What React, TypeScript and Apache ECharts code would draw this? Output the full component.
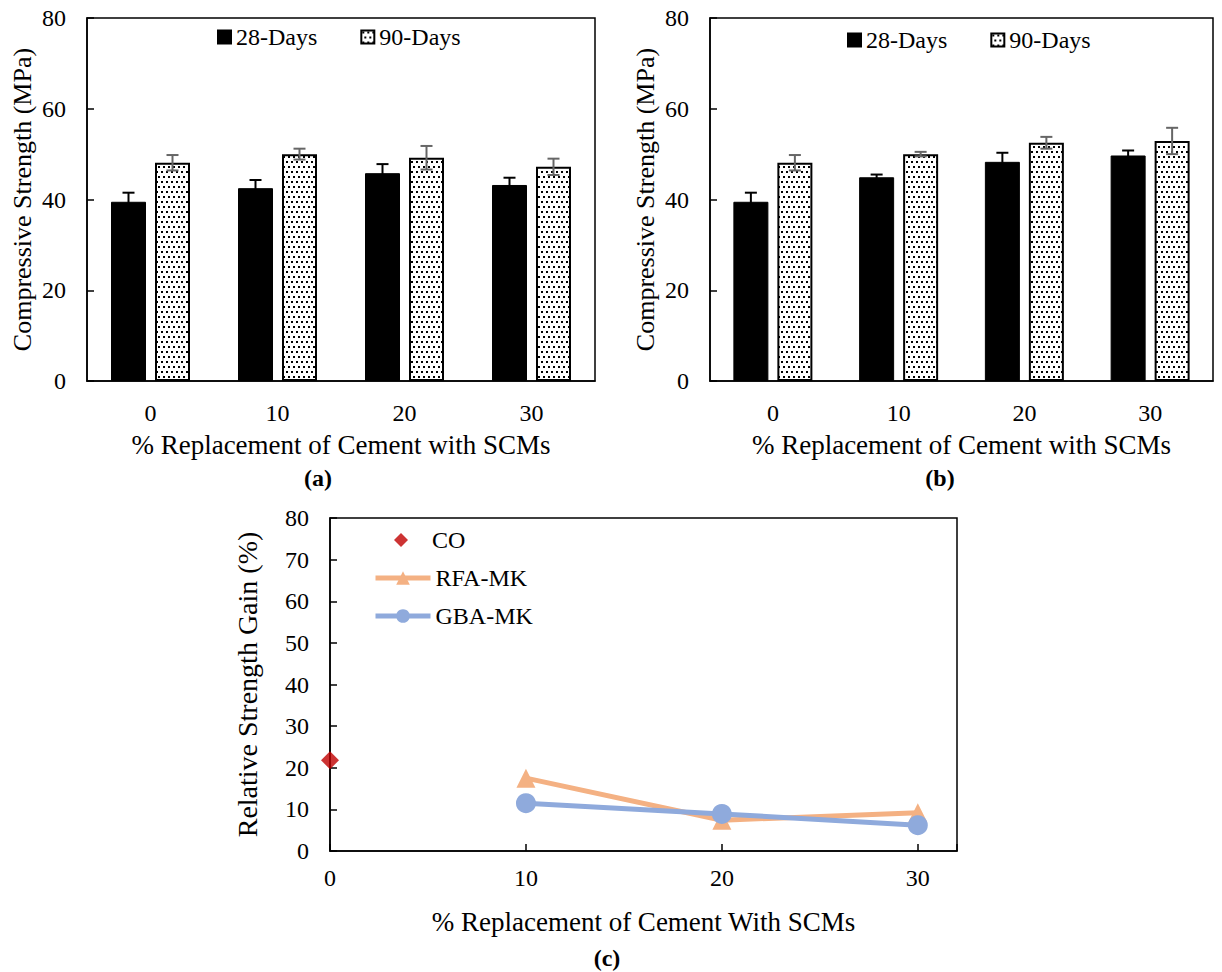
import React, { useEffect, useRef } from 'react';
import * as echarts from 'echarts';

// ---------- data ----------
const categories = ['0', '10', '20', '30'];
const yTicksBar = [0, 20, 40, 60, 80];

const a28 = [39.5, 42.5, 45.8, 43.2];
const a28Err = [2.0, 1.8, 2.0, 1.6];
const a90 = [48.1, 50.0, 49.2, 47.2];
const a90Err = [1.7, 1.2, 2.6, 1.8];

const b28 = [39.5, 44.9, 48.3, 49.7];
const b28Err = [2.0, 0.6, 2.0, 1.1];
const b90 = [48.1, 50.0, 52.5, 52.9];
const b90Err = [1.7, 0.5, 1.3, 2.9];

const cX = [10, 20, 30];
const coPoint = [0, 21.8];
const rfaMK = [17.5, 7.4, 9.2];
const gbaMK = [11.5, 8.9, 6.2];

// ---------- styles ----------
const FONT = '"Liberation Serif", "Times New Roman", Times, serif';
const BAR_W = 35;
const BAR_GAP = 9;
const ERR_OFF = (BAR_W + BAR_GAP) / 2;

function dotPattern() {
  const c = document.createElement('canvas');
  c.width = 10;
  c.height = 10;
  const ctx = c.getContext('2d')!;
  ctx.fillStyle = '#ffffff';
  ctx.fillRect(0, 0, 10, 10);
  ctx.fillStyle = '#000000';
  ctx.fillRect(1, 1, 2, 2);
  ctx.fillRect(6, 1, 2, 2);
  ctx.fillRect(3, 6, 2, 2);
  ctx.fillRect(8, 6, 2, 2);
  return { image: c.toDataURL(), repeat: 'repeat', imageWidth: 10, imageHeight: 10 };
}

function errSeries(idx: number, vals: number[], errs: number[], offset: number, color: string) {
  return {
    type: 'custom',
    xAxisIndex: idx,
    yAxisIndex: idx,
    z: 5,
    silent: true,
    data: vals.map((v, i) => [i, v - errs[i], v + errs[i]]),
    encode: { x: 0, y: [1, 2] },
    renderItem: (params: any, api: any) => {
      const lo = api.coord([api.value(0), api.value(1)]);
      const hi = api.coord([api.value(0), api.value(2)]);
      const x = lo[0] + offset;
      const h = 6;
      const st = { stroke: color, lineWidth: 2 };
      return {
        type: 'group',
        children: [
          { type: 'line', shape: { x1: x, y1: lo[1], x2: x, y2: hi[1] }, style: st },
          { type: 'line', shape: { x1: x - h, y1: hi[1], x2: x + h, y2: hi[1] }, style: st },
          { type: 'line', shape: { x1: x - h, y1: lo[1], x2: x + h, y2: lo[1] }, style: st },
        ],
      };
    },
  };
}

function barAxes(idx: number) {
  const x = {
    type: 'category',
    gridIndex: idx,
    data: categories,
    axisTick: { show: false },
    axisLine: { lineStyle: { color: '#000', width: 1.5 } },
    axisLabel: { color: '#000', fontFamily: FONT, fontSize: 24, margin: 20 },
    name: '% Replacement of Cement with SCMs',
    nameLocation: 'middle',
    nameGap: 50,
    nameTextStyle: { color: '#000', fontFamily: FONT, fontSize: 27 },
  };
  const y = {
    type: 'value',
    gridIndex: idx,
    min: yTicksBar[0],
    max: yTicksBar[yTicksBar.length - 1],
    interval: 20,
    splitLine: { show: false },
    axisLine: { show: true, lineStyle: { color: '#000', width: 1.5 } },
    axisTick: { show: true, inside: true, length: 7, lineStyle: { color: '#000', width: 1.5 } },
    axisLabel: { color: '#000', fontFamily: FONT, fontSize: 24, margin: 21 },
    name: 'Compressive Strength (MPa)',
    nameLocation: 'middle',
    nameGap: 52,
    nameTextStyle: { color: '#000', fontFamily: FONT, fontSize: 26 },
  };
  return { x, y };
}

export default function App() {
  const ref = useRef<HTMLDivElement>(null);
  useEffect(() => {
    if (!ref.current) return;
    const chart = echarts.init(ref.current, undefined, { renderer: 'svg' });
    const pat = dotPattern();
    const A = barAxes(0);
    const B = barAxes(1);

    const bar28 = (idx: number, data: number[]) => ({
      type: 'bar',
      name: '28-Days',
      xAxisIndex: idx,
      yAxisIndex: idx,
      data,
      barWidth: BAR_W,
      barGap: (BAR_GAP / BAR_W) * 100 + '%',
      itemStyle: { color: '#000', borderColor: '#000', borderWidth: 1 },
    });
    const bar90 = (idx: number, data: number[]) => ({
      type: 'bar',
      name: '90-Days',
      xAxisIndex: idx,
      yAxisIndex: idx,
      data,
      barWidth: BAR_W,
      barGap: (BAR_GAP / BAR_W) * 100 + '%',
      itemStyle: { color: pat, borderColor: '#000', borderWidth: 2 },
    });

    const legendText = { color: '#000', fontFamily: FONT, fontSize: 24 };

    const option: any = {
      animation: false,
      backgroundColor: '#fff',
      grid: [
        { left: 87, top: 18, width: 508, height: 363, show: true, borderColor: '#000', borderWidth: 1.5 },
        { left: 710, top: 18, width: 503, height: 363, show: true, borderColor: '#000', borderWidth: 1.5 },
        { left: 330, top: 518, width: 627, height: 333, show: true, borderColor: '#000', borderWidth: 1.5 },
      ],
      legend: [
        {
          left: 217, top: 25, padding: 0, itemWidth: 13, itemHeight: 13, itemGap: 43,
          icon: 'rect', data: ['28-Days', '90-Days'], textStyle: legendText, selectedMode: false,
        },
        {
          left: 847, top: 28, padding: 0, itemWidth: 13, itemHeight: 13, itemGap: 43,
          icon: 'rect', data: ['28-Days', '90-Days'], textStyle: legendText, selectedMode: false,
        },
        {
          left: 394, top: 528, padding: 0, itemWidth: 14, itemHeight: 14,
          data: ['CO'], textStyle: { ...legendText, padding: [0, 0, 0, 19] }, selectedMode: false,
        },
        {
          left: 373, top: 566, padding: 0, orient: 'vertical', itemWidth: 55, itemHeight: 17,
          itemGap: 14,
          lineStyle: { width: 5 },
          data: ['RFA-MK', 'GBA-MK'], textStyle: legendText, selectedMode: false,
        },
      ],
      xAxis: [
        A.x,
        B.x,
        {
          type: 'value',
          gridIndex: 2,
          min: 0,
          max: 32,
          interval: 10,
          splitLine: { show: false },
          axisLine: { lineStyle: { color: '#000', width: 1.5 } },
          axisTick: { show: true, inside: true, length: 7, lineStyle: { color: '#000', width: 1.5 } },
          axisLabel: {
            color: '#000', fontFamily: FONT, fontSize: 24, margin: 15,
            formatter: (v: number) => (v % 10 === 0 ? String(v) : ''),
          },
          name: '% Replacement of Cement With SCMs',
          nameLocation: 'middle',
          nameGap: 57,
          nameTextStyle: { color: '#000', fontFamily: FONT, fontSize: 27 },
        },
      ],
      yAxis: [
        A.y,
        B.y,
        {
          type: 'value',
          gridIndex: 2,
          min: 0,
          max: 80,
          interval: 10,
          splitLine: { show: false },
          axisLine: { show: true, lineStyle: { color: '#000', width: 1.5 } },
          axisTick: { show: true, inside: true, length: 7, lineStyle: { color: '#000', width: 1.5 } },
          axisLabel: { color: '#000', fontFamily: FONT, fontSize: 24, margin: 21 },
          name: 'Relative Strength Gain (%)',
          nameLocation: 'middle',
          nameGap: 69,
          nameTextStyle: { color: '#000', fontFamily: FONT, fontSize: 28 },
        },
      ],
      series: [
        bar28(0, a28),
        bar90(0, a90),
        errSeries(0, a28, a28Err, -ERR_OFF, '#000'),
        errSeries(0, a90, a90Err, ERR_OFF, '#666'),
        bar28(1, b28),
        bar90(1, b90),
        errSeries(1, b28, b28Err, -ERR_OFF, '#000'),
        errSeries(1, b90, b90Err, ERR_OFF, '#666'),
        {
          type: 'scatter',
          name: 'CO',
          xAxisIndex: 2,
          yAxisIndex: 2,
          symbol: 'diamond',
          symbolSize: 18,
          clip: false,
          itemStyle: { color: '#C00000' },
          data: [coPoint],
          z: 4,
        },
        {
          type: 'line',
          name: 'RFA-MK',
          xAxisIndex: 2,
          yAxisIndex: 2,
          symbol: 'triangle',
          symbolSize: 19,
          lineStyle: { color: '#F4B183', width: 5 },
          itemStyle: { color: '#F4B183' },
          data: cX.map((x, i) => [x, rfaMK[i]]),
        },
        {
          type: 'line',
          name: 'GBA-MK',
          xAxisIndex: 2,
          yAxisIndex: 2,
          symbol: 'circle',
          symbolSize: 20,
          lineStyle: { color: '#8FAADC', width: 5 },
          itemStyle: { color: '#8FAADC' },
          data: cX.map((x, i) => [x, gbaMK[i]]),
        },
      ],
      graphic: [
        { type: 'text', x: 318, y: 478, style: { text: '(a)', font: `bold 24px ${FONT}`, fill: '#000', textAlign: 'center', textVerticalAlign: 'middle' } },
        { type: 'text', x: 940, y: 478, style: { text: '(b)', font: `bold 24px ${FONT}`, fill: '#000', textAlign: 'center', textVerticalAlign: 'middle' } },
        { type: 'text', x: 607, y: 958, style: { text: '(c)', font: `bold 24px ${FONT}`, fill: '#000', textAlign: 'center', textVerticalAlign: 'middle' } },
      ],
    };
    chart.setOption(option);
    return () => chart.dispose();
  }, []);
  return (
    <div
      ref={ref}
      style={{ position: 'absolute', left: 0, top: 0, width: 1222, height: 972, background: '#fff' }}
    />
  );
}
